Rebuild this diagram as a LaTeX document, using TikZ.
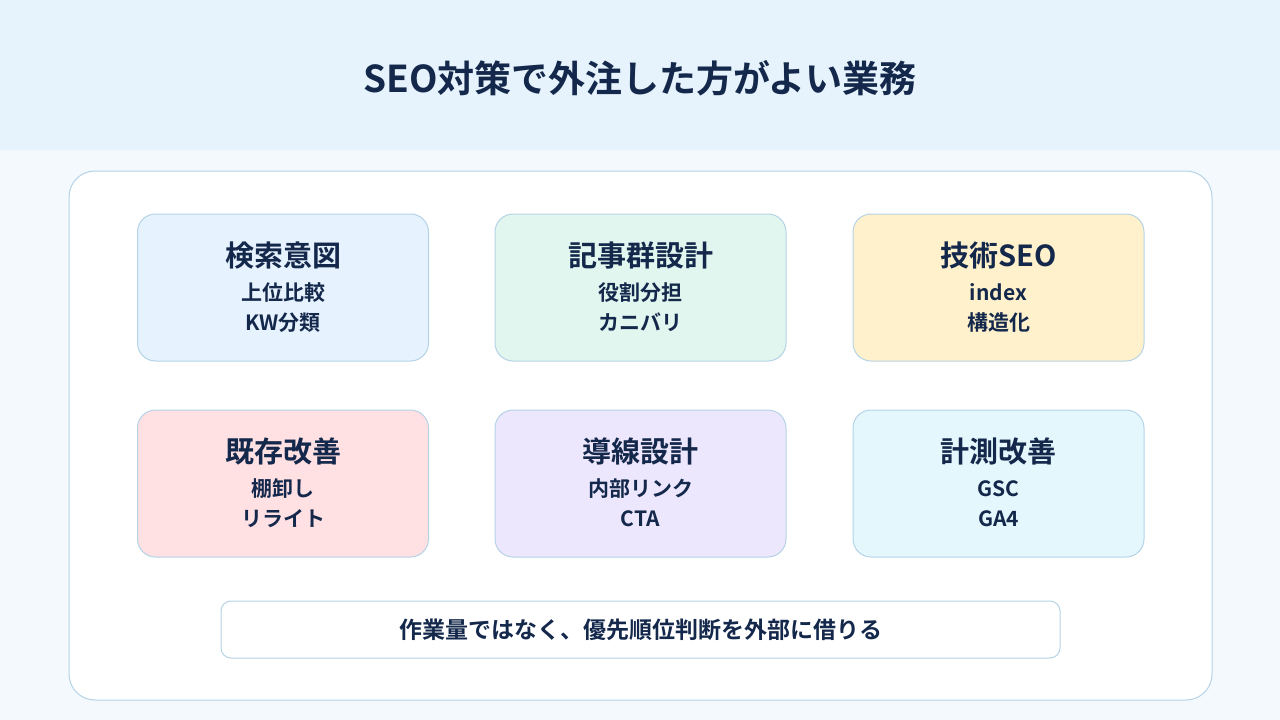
\documentclass[tikz,border=0pt]{standalone}
\usepackage{fontspec}
\setmainfont{Noto Sans CJK JP}[BoldFont={* Bold}]
\definecolor{ink}{HTML}{14284B}
\definecolor{hdr}{HTML}{E6F3FD}
\definecolor{bgc}{HTML}{F3F9FD}
\definecolor{bd}{HTML}{B5D3E6}
\definecolor{cA}{HTML}{E6F2FD}
\definecolor{cB}{HTML}{E0F6EE}
\definecolor{cC}{HTML}{FFF1CC}
\definecolor{cD}{HTML}{FFE0E3}
\definecolor{cE}{HTML}{EDE7FD}
\definecolor{cF}{HTML}{E3F7FD}
\tikzset{card/.style={draw=bd,line width=1pt,rounded corners=18pt,minimum width=291pt,minimum height=147pt,inner sep=0pt},
ttl/.style={font=\bfseries\fontsize{29}{32}\selectfont,text=ink},
sub/.style={font=\bfseries\fontsize{21}{24}\selectfont,text=ink}}
\begin{document}
\begin{tikzpicture}[x=1pt,y=-1pt]
\fill[bgc] (0,0) rectangle (1280,720);
\fill[hdr] (0,0) rectangle (1280,150);
\node[font=\bfseries\fontsize{37}{40}\selectfont,text=ink] (title) at (640,78) {SEO対策で外注した方がよい業務};
\node[draw=bd,fill=white,line width=1pt,rounded corners=26pt,minimum width=1143pt,minimum height=529pt] (panel) at (640.5,435.5) {};
\foreach \n/\x/\y/\c/\t/\a/\b in {
 k1/283/287.5/cA/検索意図/上位比較/KW分類,
 k2/640.5/287.5/cB/記事群設計/役割分担/カニバリ,
 k3/998.5/287.5/cC/技術SEO/index/構造化,
 k4/283/483.5/cD/既存改善/棚卸し/リライト,
 k5/640.5/483.5/cE/導線設計/内部リンク/CTA,
 k6/998.5/483.5/cF/計測改善/GSC/GA4}{
 \node[card,fill=\c] (\n) at (\x,\y) {};
 \node[ttl] (\n t) at (\x,\y-32) {\t};
 \node[sub] (\n a) at (\x,\y+5) {\a};
 \node[sub] (\n b) at (\x,\y+35) {\b};
}
\node[draw=bd,fill=white,line width=1pt,rounded corners=10pt,minimum width=839pt,minimum height=57pt,font=\bfseries\fontsize{23}{26}\selectfont,text=ink] (note) at (640.5,629.5) {作業量ではなく、優先順位判断を外部に借りる};
\end{tikzpicture}
\end{document}
